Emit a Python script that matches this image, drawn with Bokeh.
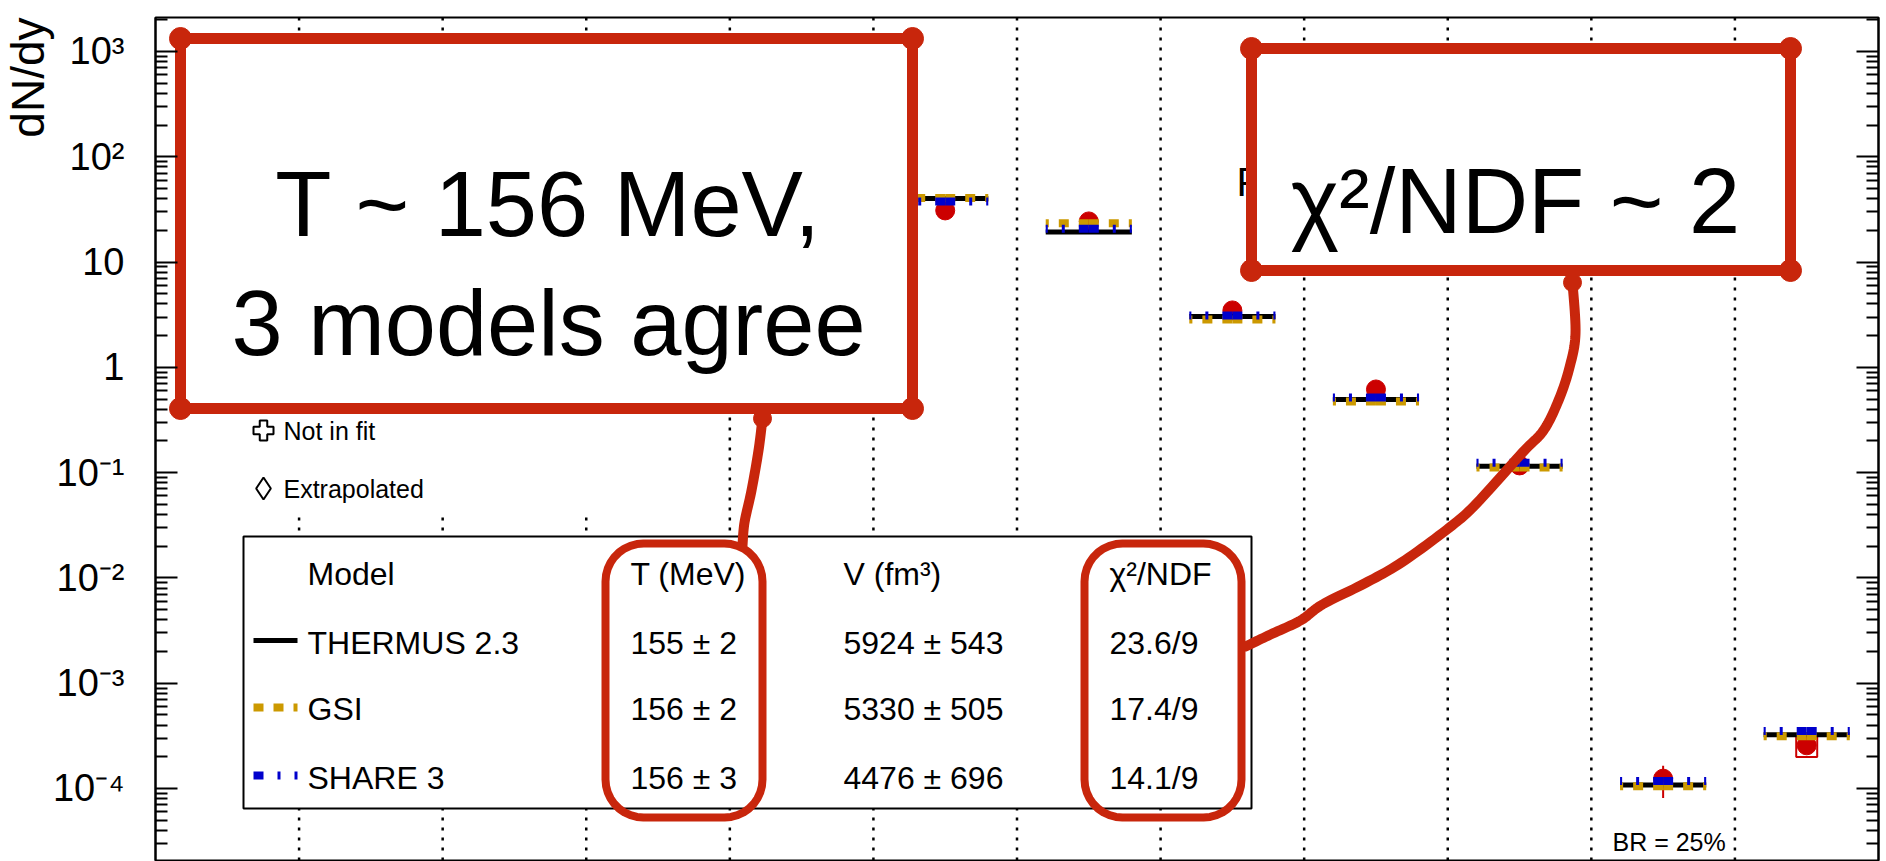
import numpy as np
from bokeh.plotting import figure
from bokeh.models import Range1d, FixedTicker, LogAxis, CustomJSTickFormatter, Title
from bokeh.core.properties import value
from bokeh.embed import file_html
from bokeh.resources import INLINE

# ---------------- data ----------------
particles = ["π", "K", "K⁰s", "K*⁰", "φ", "p", "Λ", "Ξ", "Ω", "d", "³ΛH", "³He"]
measured = [733, 109, 110, 20.0, 13.8, 30.9, 24.3, 3.47, 0.616, 0.117, 1.24e-4, 2.57e-4]
measured_err_hi = [0, 0, 0, 0, 0, 0, 0, 0, 0, 0, 0.40e-4, 0]
measured_err_lo = [0, 0, 0, 0, 0, 0, 0, 0, 0, 0, 0.43e-4, 0]
alt_particle = ["³He"]
alt_measured = [2.50e-4]

thermus = [720, 112, 112, 22.0, 16.5, 40.2, 19.3, 3.04, 0.495, 0.1146, 1.08e-4, 3.24e-4]
gsi = [735, 115, 115, 23.0, 16.0, 40.5, 23.3, 2.85, 0.474, 0.112, 1.05e-4, 3.13e-4]
share = [710, 108, 108, 21.0, 15.0, 37.6, 20.7, 3.11, 0.518, 0.1242, 1.18e-4, 3.52e-4]

model_names = ["THERMUS 2.3", "GSI", "SHARE 3"]
fit_T = [155, 156, 156]
fit_T_err = [2, 2, 3]
fit_V = [5924, 5330, 4476]
fit_V_err = [543, 505, 696]
fit_chi2 = [23.6, 17.4, 14.1]
fit_ndf = [9, 9, 9]

decades = [-4, -3, -2, -1, 0, 1, 2, 3]

# ---------------- layout ----------------
W, H = 1886, 861
FL, FT, FW, FH = 155, 17, 1723, 843
X_MAX = len(particles)
Y_LO, Y_HI = 2.07e-5, 2.10e3
LLO, LHI = np.log10(Y_LO), np.log10(Y_HI)

RED = "#cc0000"
GOLD = "#cc9900"
BLUE = "#0000cc"
PEN = "#c8260c"
FONT = "Liberation Sans"


def px(xp):
    """canvas pixel column -> x data coordinate"""
    return (np.asarray(xp, dtype=float) - FL) / FW * X_MAX


def py(yp):
    """canvas pixel row -> y data coordinate (log axis)"""
    return 10 ** (LHI - (np.asarray(yp, dtype=float) - FT) / FH * (LHI - LLO))


p = figure(width=W, height=H, x_range=Range1d(0, X_MAX), y_range=Range1d(Y_LO, Y_HI),
           y_axis_type="log", output_backend="svg", toolbar_location=None,
           min_border_left=FL, min_border_right=W - FL - FW,
           min_border_top=FT, min_border_bottom=H - FT - FH)
p.xaxis.visible = False
p.grid.visible = False
p.outline_line_color = "black"
p.outline_line_width = 2
p.background_fill_color = "white"
p.border_fill_color = "white"

major = [10.0 ** d for d in decades]
minor = [m * 10.0 ** d for d in range(-5, 4) for m in range(2, 10)]
ticker = FixedTicker(ticks=major, minor_ticks=minor)

fmt = CustomJSTickFormatter(code="""
const e = Math.round(Math.log10(tick));
if (e === 0) return "1";
if (e === 1) return "10";
const sup = {"-": "\u207b", "0": "\u2070", "1": "\u00b9", "2": "\u00b2", "3": "\u00b3",
             "4": "\u2074", "5": "\u2075", "6": "\u2076", "7": "\u2077", "8": "\u2078", "9": "\u2079"};
return "10" + String(e).split("").map(c => sup[c]).join("");
""")

ya = p.yaxis[0]
ya.ticker = ticker
ya.formatter = fmt
ya.major_tick_in = 22
ya.major_tick_out = 0
ya.minor_tick_in = 12
ya.minor_tick_out = 0
ya.major_tick_line_width = 2
ya.minor_tick_line_width = 2
ya.axis_line_width = 2
ya.major_label_standoff = 31
ya.major_label_text_font = FONT
ya.major_label_text_font_size = "38px"
ya.major_label_text_color = "black"

ra = LogAxis(ticker=ticker, formatter=CustomJSTickFormatter(code="return ''"),
             major_tick_in=22, major_tick_out=0, minor_tick_in=12, minor_tick_out=0,
             major_tick_line_width=2, minor_tick_line_width=2, axis_line_width=2,
             major_label_standoff=0, major_label_text_font_size="0px")
p.add_layout(ra, "right")

# y-axis title, placed at the upper end of the axis
p.add_layout(Title(text="dN/dy", align="right", text_font=FONT, text_font_size="46px",
                   text_font_style="normal", text_color="black", offset=0, standoff=-8),
             "left")

# dotted separators between particle species
seps = list(range(1, X_MAX))
p.segment(x0=seps, y0=Y_LO, x1=seps, y1=Y_HI, line_color="black", line_width=2.5,
          line_dash="3 7")

# system label, mostly covered by the right callout
p.text(x=[px(1236)], y=[py(181)], text=["Pb-Pb"], text_font=value(FONT),
       text_font_size="40px", text_baseline="alphabetic", text_align="left",
       text_color="black")

# ---------------- measured yields ----------------
xc = np.arange(X_MAX) + 0.5
meas = np.array(measured)
ehi = np.array(measured_err_hi)
elo = np.array(measured_err_lo)
has_err = (ehi > 0) | (elo > 0)
p.segment(x0=xc[has_err], x1=xc[has_err], y0=(meas - elo)[has_err], y1=(meas + ehi)[has_err],
          line_color=RED, line_width=2)
p.scatter(x=xc, y=meas, size=19, marker="circle", color=RED)
alt_x = [xc[particles.index(n)] for n in alt_particle]
p.scatter(x=alt_x, y=alt_measured, size=21, marker="square", fill_color=None,
          line_color=RED, line_width=2)

# ---------------- model yields ----------------
HW = 0.3
p.segment(x0=xc - HW, x1=xc + HW, y0=thermus, y1=thermus, line_color="black", line_width=5)
for vals, col, dash in [(gsi, GOLD, "10 10"), (share, BLUE, "10 14 3 14")]:
    v = np.array(vals)
    p.segment(x0=np.concatenate([xc, xc]), x1=np.concatenate([xc - HW, xc + HW]),
              y0=np.concatenate([v, v]), y1=np.concatenate([v, v]),
              line_color=col, line_width=8, line_dash=dash)

# ---------------- marker legend ----------------
p.quad(left=[px(160)], right=[px(650)], top=[py(410)], bottom=[py(512)],
       fill_color="white", line_color=None)
p.scatter(x=[px(263)], y=[py(430)], marker="plus", size=20, fill_color="white",
          line_color="black", line_width=2)
p.scatter(x=[px(263)], y=[py(488)], marker="diamond", size=22, fill_color="white",
          line_color="black", line_width=2)
p.text(x=[px(283), px(283)], y=[py(430), py(488)], text=["Not in fit", "Extrapolated"],
       text_font=value(FONT), text_font_size="25px", text_baseline="middle",
       text_color="black")
p.text(x=[px(1612)], y=[py(841)], text=["BR = 25%"], text_font=value(FONT),
       text_font_size="25px", text_baseline="middle", text_color="black")

# ---------------- fit summary table ----------------
p.quad(left=[px(243)], right=[px(1251)], top=[py(536)], bottom=[py(808)],
       fill_color="white", line_color="black", line_width=2)
row_y = [642, 708, 777]
head_y = 573
col_x = [307, 630, 843, 1109]
headers = ["Model", "T (MeV)", "V (fm³)", "χ²/NDF"]
cells_x, cells_y, cells_t = [], [], []
for cx, h in zip(col_x, headers):
    cells_x.append(px(cx)); cells_y.append(py(head_y)); cells_t.append(h)
for i, name in enumerate(model_names):
    row = [name, f"{fit_T[i]} ± {fit_T_err[i]}", f"{fit_V[i]} ± {fit_V_err[i]}",
           f"{fit_chi2[i]:.1f}/{fit_ndf[i]}"]
    for cx, t in zip(col_x, row):
        cells_x.append(px(cx)); cells_y.append(py(row_y[i])); cells_t.append(t)
p.text(x=cells_x, y=cells_y, text=cells_t, text_font=value(FONT), text_font_size="32px",
       text_baseline="middle", text_color="black")

sample_y = [640, 707, 775]
p.segment(x0=[px(253)], x1=[px(297)], y0=[py(sample_y[0])], y1=[py(sample_y[0])],
          line_color="black", line_width=5)
p.segment(x0=[px(253)], x1=[px(297)], y0=[py(sample_y[1])], y1=[py(sample_y[1])],
          line_color=GOLD, line_width=8, line_dash="10 10")
p.segment(x0=[px(253)], x1=[px(297)], y0=[py(sample_y[2])], y1=[py(sample_y[2])],
          line_color=BLUE, line_width=8, line_dash="10 14 3 14")


# ---------------- hand-drawn callouts ----------------
def rounded_rect(x0, y0, x1, y1, r, n=10):
    pts = []
    for cx, cy, a0, a1 in [(x1 - r, y0 + r, -90, 0), (x1 - r, y1 - r, 0, 90),
                           (x0 + r, y1 - r, 90, 180), (x0 + r, y0 + r, 180, 270)]:
        for t in np.radians(np.linspace(a0, a1, n)):
            pts.append((cx + r * np.cos(t), cy + r * np.sin(t)))
    pts.append(pts[0])
    xs, ys = zip(*pts)
    return px(xs), py(ys)


def smooth(points, steps=12):
    """Catmull-Rom spline through the given pen points"""
    pts = np.asarray(points, dtype=float)
    ext = np.vstack([pts[0], pts, pts[-1]])
    out = []
    for i in range(1, len(ext) - 2):
        p0, p1, p2, p3 = ext[i - 1], ext[i], ext[i + 1], ext[i + 2]
        for t in np.linspace(0, 1, steps, endpoint=False):
            t2, t3 = t * t, t * t * t
            out.append(0.5 * ((2 * p1) + (-p0 + p2) * t + (2 * p0 - 5 * p1 + 4 * p2 - p3) * t2
                              + (-p0 + 3 * p1 - 3 * p2 + p3) * t3))
    out.append(pts[-1])
    return np.array(out)


def pen_line(points, width=10):
    c = smooth(points)
    p.line(px(c[:, 0]), py(c[:, 1]), line_color=PEN, line_width=width, line_cap="round",
           line_join="round")
    p.scatter(x=[px(c[0, 0])], y=[py(c[0, 1])], size=width + 8, color=PEN)


def note_box(x0, y0, x1, y1):
    xs = [x0, x1, x1, x0, x0]
    ys = [y0, y0, y1, y1, y0]
    p.patch(px(xs), py(ys), fill_color="white", line_color=PEN, line_width=11,
            line_join="round")
    p.scatter(x=px([x0, x1, x1, x0]), y=py([y0, y0, y1, y1]), size=22, color=PEN)


# callout: temperature
pen_line([(762, 418), (758, 450), (751, 490), (744, 522), (742, 545)])
note_box(180, 38, 912, 408)
p.text(x=[px(548), px(548)], y=[py(203), py(322)], text=["T ~ 156 MeV,", "3 models agree"],
       text_font=value(FONT), text_font_size="92px", text_align="center",
       text_baseline="alphabetic", text_color="black")

# callout: goodness of fit
pen_line([(1572, 282), (1575, 333), (1569, 367), (1558, 400), (1543, 430), (1522, 452),
          (1476, 503), (1449, 527), (1401, 562), (1364, 583), (1322, 604), (1300, 620),
          (1270, 634), (1245, 646)])
note_box(1251, 48, 1790, 270)
p.text(x=[px(1515)], y=[py(200)], text=["χ²/NDF ~ 2"], text_font=value(FONT),
       text_font_size="92px", text_align="center", text_baseline="alphabetic",
       text_color="black")

# highlighted table columns
for x0, x1 in [(605, 762), (1084, 1241)]:
    rx, ry = rounded_rect(x0, 543, x1, 817, 38)
    p.patch(rx, ry, fill_color=None, line_color=PEN, line_width=8, line_join="round")

open("out.html", "w").write(file_html(p, INLINE))
